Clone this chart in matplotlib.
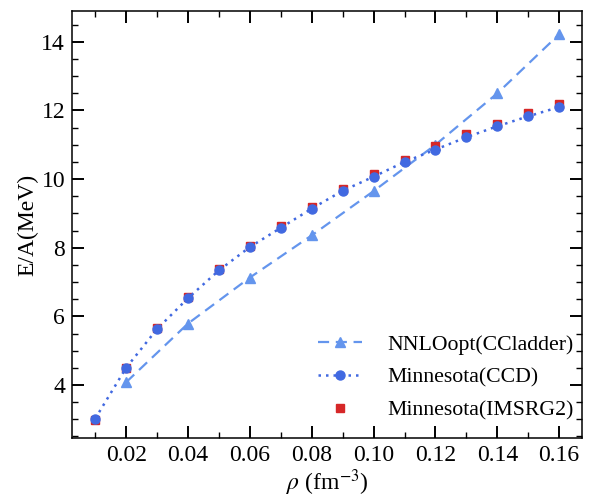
import matplotlib
matplotlib.use("Agg")
import matplotlib.pyplot as plt
from matplotlib.ticker import MultipleLocator, FormatStrFormatter

plt.rcParams['font.family'] = ['Liberation Serif', 'DejaVu Serif']
plt.rcParams['mathtext.fontset'] = 'stix'

rho_nnlo = [0.02, 0.04, 0.06, 0.08, 0.10, 0.12, 0.14, 0.16]
e_nnlo = [4.08, 5.79, 7.13, 8.36, 9.65, 11.0, 12.50, 14.22]

rho_minn = [0.01, 0.02, 0.03, 0.04, 0.05, 0.06, 0.07, 0.08,
            0.09, 0.10, 0.11, 0.12, 0.13, 0.14, 0.15, 0.16]
e_ccd = [3.02, 4.50, 5.63, 6.53, 7.34, 8.02, 8.58, 9.14,
         9.66, 10.07, 10.50, 10.86, 11.22, 11.54, 11.83, 12.10]
e_imsrg = [2.99, 4.50, 5.65, 6.56, 7.37, 8.05, 8.63, 9.18,
           9.70, 10.14, 10.57, 10.96, 11.31, 11.62, 11.93, 12.20]

fig = plt.figure(figsize=(5.97, 4.98), dpi=100)
ax = fig.add_axes([0.1206, 0.1205, 0.975 - 0.1206, 0.978 - 0.1205])

ax.plot(rho_nnlo, e_nnlo, ls=(0, (5, 3)), color='#6495ED', lw=1.6,
        marker='^', ms=6.5, label='NNLOopt(CCladder)')
ax.plot(rho_minn, e_ccd, ls=(0, (1, 2)), color='#4169E1', lw=1.8,
        marker='o', ms=6.5, label='Minnesota(CCD)', zorder=3)
ax.plot(rho_minn, e_imsrg, ls='none', color='#D62728',
        marker='s', ms=6, label='Minnesota(IMSRG2)', zorder=2)

ax.set_xlim(0.0025, 0.1674)
ax.set_ylim(2.455, 14.9)
ax.xaxis.set_major_locator(MultipleLocator(0.02))
ax.xaxis.set_minor_locator(MultipleLocator(0.01))
ax.yaxis.set_major_locator(MultipleLocator(2))
ax.yaxis.set_minor_locator(MultipleLocator(0.5))
ax.tick_params(which='both', direction='in', top=True, right=True, labelsize=17)
ax.tick_params(which='major', length=8.5, width=1.4, pad=5)
ax.tick_params(which='minor', length=4.5, width=1.0)
ax.xaxis.set_major_formatter(FormatStrFormatter('%.2f'))
for s in ax.spines.values():
    s.set_linewidth(1.1)

ax.set_xlabel(r'$\rho$ (fm$^{-3}$)', fontsize=17, labelpad=1)
ax.set_ylabel('E/A(MeV)', fontsize=17, labelpad=2)

ax.legend(loc='lower right', frameon=False, fontsize=15.7, handlelength=2.0,
          handletextpad=1.15, labelspacing=0.58, borderaxespad=0,
          bbox_to_anchor=(1.0, 0.02))

fig.savefig('out.png', dpi=100)
